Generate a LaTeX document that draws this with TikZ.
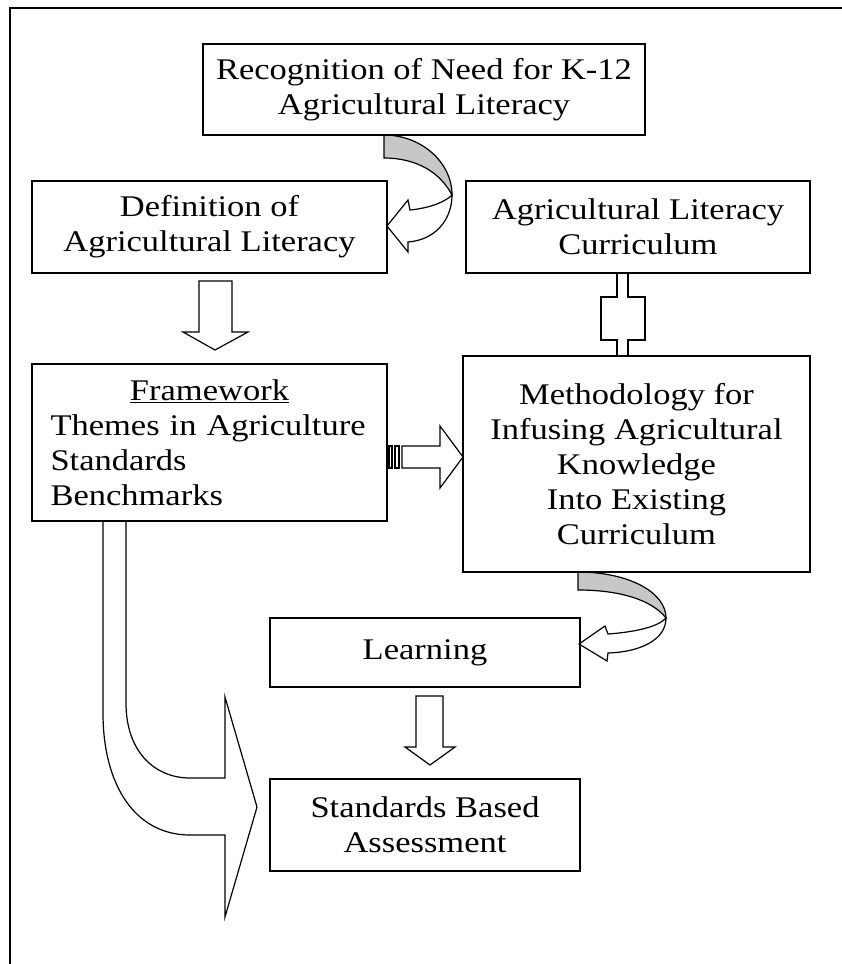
\documentclass[tikz,border=0pt]{standalone}
\usepackage{fontspec}
\setmainfont{Liberation Serif}[FakeStretch=1.15]
\begin{document}
\begin{tikzpicture}[x=1pt,y=-1pt,
  box/.style={draw, line width=1.4pt, inner sep=0pt, align=center, font=\fontsize{30}{35}\selectfont},
  blockarrow/.style={draw, line width=1.2pt, fill=white, line join=miter},
  backface/.style={draw, line width=1.2pt, fill=black!22, line join=miter}]
\useasboundingbox (0,0) rectangle (841,964);
\fill[white] (0,0) rectangle (841,964);
\draw[line width=2pt] (10,990) -- (10,8) -- (870,8);

% curved arrow: recognition -> definition
\path[backface] (384,135) .. controls (421,135) and (452,162) .. (452,195)
   .. controls (440,172) and (416,158) .. (384,158) -- cycle;
\path[blockarrow] (452,195) .. controls (452,220) and (435,240) .. (408,242)
   -- (408,252) -- (387,226) -- (408,200) -- (410,210)
   .. controls (430,208) and (445,202) .. (452,195) -- cycle;

% down arrow: definition -> framework
\path[blockarrow] (199,281) -- (232,281) -- (232,332) -- (248,332) -- (215,350)
   -- (183,332) -- (199,332) -- cycle;

% double connector: curriculum -- methodology
\path[blockarrow] (617,273) -- (617,297) -- (601,297) -- (601,340) -- (617,340)
   -- (617,356) -- (628,356) -- (628,340) -- (645,340) -- (645,297) -- (628,297)
   -- (628,273) -- cycle;

% striped arrow: framework -> methodology
\path[blockarrow] (389,446) rectangle (392,468);
\path[blockarrow] (395,446) rectangle (399,468);
\path[blockarrow] (402,446) -- (440,446) -- (440,426) -- (463,457) -- (440,488)
   -- (440,468) -- (402,468) -- cycle;

% curved arrow: methodology -> learning
\path[backface] (578,572) .. controls (628,572) and (666,592) .. (666,618)
   .. controls (652,600) and (620,590) .. (578,590) -- cycle;
\path[blockarrow] (666,618) .. controls (666,640) and (640,652) .. (608,653)
   -- (607,661) -- (579,644) -- (605,626) -- (608,634)
   .. controls (635,632) and (658,627) .. (666,618) -- cycle;

% down arrow: learning -> assessment
\path[blockarrow] (416,696) -- (443,696) -- (443,747) -- (455,747) -- (430,765)
   -- (405,747) -- (416,747) -- cycle;

% big curved arrow: framework -> assessment
\path[blockarrow] (126,521) -- (126,703) .. controls (126,752) and (155,778) .. (190,778)
   -- (225,778) -- (225,697) -- (257,807) -- (225,917) -- (225,835) -- (190,835)
   .. controls (135,835) and (103,785) .. (103,713) -- (103,521) -- cycle;

% boxes
\node[box, minimum width=442pt, minimum height=91pt] (rec) at (424,89.5)
  {Recognition of Need for K-12\\Agricultural Literacy};
\node[box, minimum width=355pt, minimum height=92pt] (def) at (209.5,227)
  {Definition of\\Agricultural Literacy};
\node[box, minimum width=344pt, minimum height=92pt] (cur) at (638,227)
  {Agricultural Literacy\\Curriculum};
\node[box, minimum width=355pt, minimum height=157pt, text width=318pt, align=left] (fw) at (209.5,442.5)
  {\makebox[318pt][c]{\underline{Framework}}\\Themes in Agriculture\\Standards\\Benchmarks};
\node[box, minimum width=347pt, minimum height=216pt] (meth) at (636.5,464)
  {Methodology for\\Infusing Agricultural\\Knowledge\\Into Existing\\Curriculum};
\node[box, minimum width=310pt, minimum height=69pt] (learn) at (425,652.5)
  {Learning};
\node[box, minimum width=310pt, minimum height=92pt] (sba) at (425,825)
  {Standards Based\\Assessment};
\end{tikzpicture}
\end{document}
